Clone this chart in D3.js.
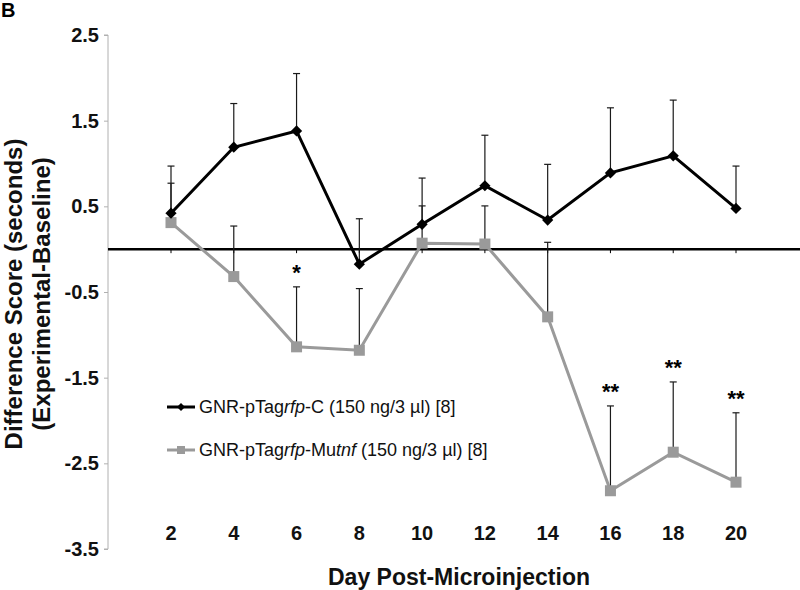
<!DOCTYPE html>
<html><head><meta charset="utf-8">
<script src="https://cdn.jsdelivr.net/npm/d3@7"></script>
<style>body{margin:0;background:#fff}svg{display:block}text{font-family:Arial,"Liberation Sans",sans-serif}</style>
</head><body>
<script>
const days = [2,4,6,8,10,12,14,16,18,20];
const controlValues = [0.42,1.19,1.38,-0.175,0.29,0.74,0.34,0.89,1.09,0.475];
const controlErrors = [0.55,0.51,0.67,0.53,0.54,0.59,0.65,0.76,0.65,0.495];
const mutValues = [0.31,-0.32,-1.14,-1.18,0.07,0.06,-0.79,-2.82,-2.37,-2.72];
const mutErrors = [0.46,0.59,0.70,0.72,0.435,0.445,0.87,0.99,0.82,0.81];
const sigMarks = ["","","*","","","","","**","**","**"];
const yTicks = [2.5,1.5,0.5,-0.5,-1.5,-2.5,-3.5];
const seriesNames = ["GNR-pTag|rfp|-C (150 ng/3 µl) [8]","GNR-pTag|rfp|-Mu|tnf| (150 ng/3 µl) [8]"];

const W=800,H=590;
const svg=d3.select("body").append("svg").attr("width",W).attr("height",H);
const y=d3.scaleLinear().domain([-3.5,2.5]).range([549,35]);
const x=d3.scalePoint().domain(days).range([171,736]);
const axisX=108;

// Panel letter
svg.append("text").attr("x",1).attr("y",17).attr("font-size",20).attr("font-weight","bold").text("B");

// y axis
const yAxis=d3.axisLeft(y).tickValues(yTicks).tickSize(4).tickFormat(d=>d.toFixed(1));
const gy=svg.append("g").attr("transform",`translate(${axisX},0)`).call(yAxis);
gy.select(".domain").attr("stroke","#b0b0b0").attr("d",`M-4,${y(2.5)}H0V${y(-3.5)}H-4`);
gy.selectAll(".tick line").attr("stroke","#b0b0b0");
gy.selectAll(".tick text").attr("font-size",20).attr("font-weight","bold").attr("fill","#111").attr("x",-9)
  .attr("font-family",'Arial,"Liberation Sans",sans-serif');

// zero line with category ticks
svg.append("line").attr("x1",axisX).attr("x2",800).attr("y1",y(0)).attr("y2",y(0)).attr("stroke","#000").attr("stroke-width",2.5);
svg.selectAll(".ztick").data(days).enter().append("line")
  .attr("x1",d=>x(d)).attr("x2",d=>x(d)).attr("y1",y(0)).attr("y2",y(0)+4).attr("stroke","#000").attr("stroke-width",1);

// x tick labels
svg.selectAll(".xl").data(days).enter().append("text")
  .attr("x",d=>x(d)).attr("y",540).attr("text-anchor","middle").attr("font-size",20).attr("font-weight","bold").attr("fill","#111").text(d=>d);

// axis titles
svg.append("text").attr("x",459).attr("y",585).attr("text-anchor","middle").attr("font-size",23).attr("font-weight","bold").attr("fill","#111").text("Day Post-Microinjection");
const yt=svg.append("text").attr("transform","translate(0,294) rotate(-90)").attr("text-anchor","middle").attr("font-size",24).attr("font-weight","bold").attr("fill","#111");
yt.append("tspan").attr("x",0).attr("y",22).text("Difference Score (seconds)");
yt.append("tspan").attr("x",0).attr("y",50).text("(Experimental-Baseline)");

// error bars
function errBars(vals,errs,col){
  const g=svg.append("g").attr("stroke",col).attr("stroke-width",1.2);
  days.forEach((d,i)=>{
    const top=y(vals[i]+errs[i]);
    g.append("line").attr("x1",x(d)).attr("x2",x(d)).attr("y1",y(vals[i])).attr("y2",top);
    g.append("line").attr("x1",x(d)-3.5).attr("x2",x(d)+3.5).attr("y1",top).attr("y2",top);
  });
}
errBars(controlValues,controlErrors,"#1a1a1a");
errBars(mutValues,mutErrors,"#1a1a1a");

const line=d3.line().x((v,i)=>x(days[i])).y(v=>y(v));
// gray series
svg.append("path").datum(mutValues).attr("d",line).attr("fill","none").attr("stroke","#9a9a9a").attr("stroke-width",3);
svg.selectAll(".sq").data(mutValues).enter().append("rect")
  .attr("x",(v,i)=>x(days[i])-5.5).attr("y",v=>y(v)-5.5).attr("width",11).attr("height",11).attr("fill","#9a9a9a");
// black series
svg.append("path").datum(controlValues).attr("d",line).attr("fill","none").attr("stroke","#000").attr("stroke-width",3);
const diamond=d3.symbol().type(d3.symbolDiamond2).size(80);
svg.selectAll(".dm").data(controlValues).enter().append("path")
  .attr("d",diamond).attr("transform",(v,i)=>`translate(${x(days[i])},${y(v)})`).attr("fill","#000");

// significance marks
svg.selectAll(".sig").data(sigMarks).enter().append("text")
  .attr("x",(s,i)=>x(days[i])).attr("y",(s,i)=>y(mutValues[i]+mutErrors[i])-19+12)
  .attr("text-anchor","middle").attr("font-size",22).attr("font-weight","bold").attr("fill","#000").text(s=>s);

// legend
function legendText(t,yy){
  const parts=seriesNames[t].split("|");
  const tx=svg.append("text").attr("x",199).attr("y",yy+6).attr("font-size",18).attr("fill","#111");
  parts.forEach((p,k)=>tx.append("tspan").attr("font-style",k%2?"italic":"normal").text(p));
}
svg.append("line").attr("x1",167).attr("x2",195).attr("y1",407).attr("y2",407).attr("stroke","#000").attr("stroke-width",3);
svg.append("path").attr("d",d3.symbol().type(d3.symbolDiamond2).size(40)).attr("transform","translate(181,407)").attr("fill","#000");
legendText(0,407);
svg.append("line").attr("x1",167).attr("x2",195).attr("y1",450).attr("y2",450).attr("stroke","#9a9a9a").attr("stroke-width",3);
svg.append("rect").attr("x",177).attr("y",446).attr("width",8).attr("height",8).attr("fill","#9a9a9a");
legendText(1,450);
</script>
</body></html>
